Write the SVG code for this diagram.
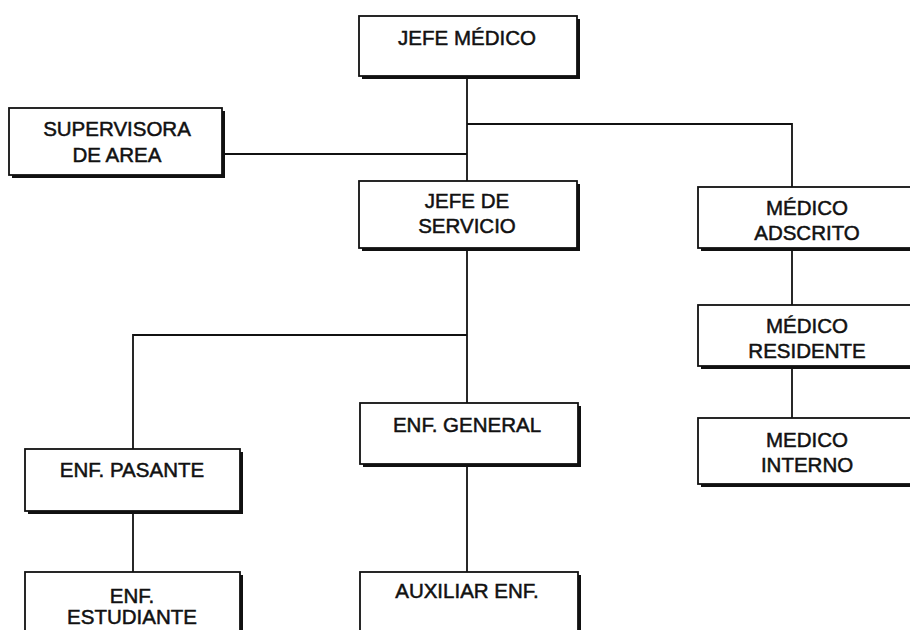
<svg xmlns="http://www.w3.org/2000/svg" width="910" height="630" viewBox="0 0 910 630">
<style>
.sh{fill:#111}
.bx{fill:#fff;stroke:#111;stroke-width:1.8}
.t{font-family:"Liberation Sans",Arial,sans-serif;font-size:20.5px;fill:#111;text-anchor:middle;stroke:#111;stroke-width:0.5}
.c{fill:none;stroke:#111;stroke-width:1.8}
</style>
<rect width="910" height="630" fill="#fff"/>
<g id="connectors">
<path class="c" d="M467 78V181"/>
<path class="c" d="M467 124H792V187"/>
<path class="c" d="M225 154H467"/>
<path class="c" d="M467 250V403"/>
<path class="c" d="M467 335H133V449"/>
<path class="c" d="M133 513V572"/>
<path class="c" d="M467 466V572"/>
<path class="c" d="M792 249V305"/>
<path class="c" d="M792 368V418"/>
</g>
<g id="jefe-medico">
<rect class="sh" x="362" y="19" width="218" height="60"/>
<rect class="bx" x="359" y="16" width="218" height="60"/>
<text class="t" x="467" y="45">JEFE MÉDICO</text>
</g>
<g id="supervisora">
<rect class="sh" x="12" y="111" width="213" height="67"/>
<rect class="bx" x="9" y="108" width="213" height="67"/>
<text class="t" x="117" y="136">SUPERVISORA</text>
<text class="t" x="117" y="162">DE AREA</text>
</g>
<g id="jefe-servicio">
<rect class="sh" x="362" y="184" width="218" height="67"/>
<rect class="bx" x="359" y="181" width="218" height="67"/>
<text class="t" x="467" y="208">JEFE DE</text>
<text class="t" x="467" y="233">SERVICIO</text>
</g>
<g id="medico-adscrito">
<rect class="sh" x="701" y="190" width="220" height="61"/>
<rect class="bx" x="698" y="187" width="220" height="61"/>
<text class="t" x="807" y="215">MÉDICO</text>
<text class="t" x="807" y="240">ADSCRITO</text>
</g>
<g id="medico-residente">
<rect class="sh" x="701" y="308" width="220" height="61"/>
<rect class="bx" x="698" y="305" width="220" height="61"/>
<text class="t" x="807" y="333">MÉDICO</text>
<text class="t" x="807" y="358">RESIDENTE</text>
</g>
<g id="medico-interno">
<rect class="sh" x="701" y="421" width="220" height="66"/>
<rect class="bx" x="698" y="418" width="220" height="66"/>
<text class="t" x="807" y="447">MEDICO</text>
<text class="t" x="807" y="472">INTERNO</text>
</g>
<g id="enf-general">
<rect class="sh" x="363" y="406" width="218" height="61"/>
<rect class="bx" x="360" y="403" width="218" height="61"/>
<text class="t" x="467" y="432">ENF. GENERAL</text>
</g>
<g id="enf-pasante">
<rect class="sh" x="28" y="452" width="215" height="62"/>
<rect class="bx" x="25" y="449" width="215" height="62"/>
<text class="t" x="132" y="477">ENF. PASANTE</text>
</g>
<g id="enf-estudiante">
<rect class="sh" x="28" y="575" width="215" height="70"/>
<rect class="bx" x="25" y="572" width="215" height="70"/>
<text class="t" x="132" y="603">ENF.</text>
<text class="t" x="132" y="624">ESTUDIANTE</text>
</g>
<g id="auxiliar-enf">
<rect class="sh" x="363" y="575" width="218" height="70"/>
<rect class="bx" x="360" y="572" width="218" height="70"/>
<text class="t" x="467" y="598">AUXILIAR ENF.</text>
</g>
</svg>
